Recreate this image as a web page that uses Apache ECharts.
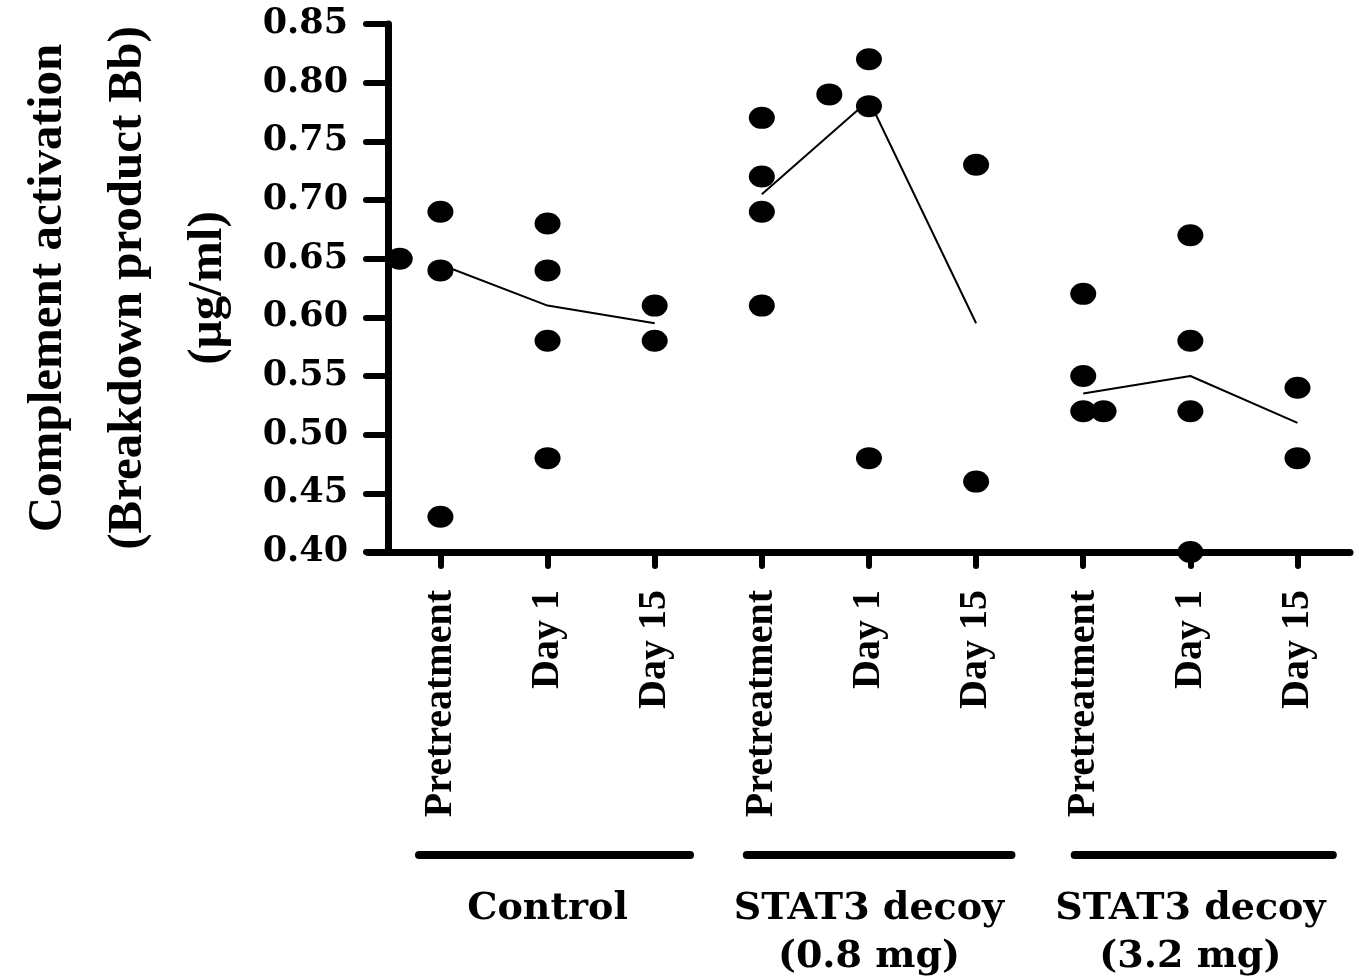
<!DOCTYPE html>
<html>
<head>
<meta charset="utf-8">
<script src="https://cdn.jsdelivr.net/npm/echarts@6/dist/echarts.min.js"></script>
<style>
  html, body { margin: 0; padding: 0; background: #fff; }
  #main { width: 1359px; height: 979px; }
</style>
</head>
<body>
<div id="main"></div>
<script>
// categories along the x axis (positions 1..9)
const categories = ['Pretreatment', 'Day 1', 'Day 15', 'Pretreatment', 'Day 1', 'Day 15', 'Pretreatment', 'Day 1', 'Day 15']
const groupNames = ['Control', 'STAT3 decoy\n(0.8 mg)', 'STAT3 decoy\n(3.2 mg)']
// individual measurements per category (µg/ml)
const pointValues = [
  [0.65, 0.69, 0.64, 0.43],
  [0.68, 0.64, 0.58, 0.48],
  [0.61, 0.58],
  [0.77, 0.72, 0.69, 0.61],
  [0.79, 0.82, 0.78, 0.48],
  [0.73, 0.46],
  [0.62, 0.55, 0.52, 0.52],
  [0.67, 0.58, 0.52, 0.40],
  [0.54, 0.48]
]
// horizontal spread of overlapping dots (in category units)
const pointJitter = [
  [-0.38, 0, 0, 0],
  [0, 0, 0, 0],
  [0, 0],
  [0, 0, 0, 0],
  [-0.37, 0, 0, 0],
  [0, 0],
  [0, 0, 0, 0.19],
  [0, 0, 0, 0],
  [0, 0]
]
// median line per category
const medianValues = [0.645, 0.61, 0.595, 0.705, 0.785, 0.595, 0.535, 0.55, 0.51]
const yMin = 0.40
const yMax = 0.85
const yStep = 0.05

const serif = '"Liberation Serif", "Times New Roman", serif'
const wideSerif = '"DejaVu Serif", serif'
const catPos = categories.map((c, i) => i + 1)

const scatterData = []
pointValues.forEach((vals, i) => {
  vals.forEach((v, j) => scatterData.push([i + 1 + pointJitter[i][j], v]))
})

const lineSeries = groupNames.map((g, gi) => ({
  type: 'line',
  data: [0, 1, 2].map(k => [gi * 3 + k + 1, medianValues[gi * 3 + k]]),
  symbol: 'none',
  lineStyle: { color: '#000', width: 2 },
  z: 2
}))

const chart = echarts.init(document.getElementById('main'))
chart.setOption({
  animation: false,
  grid: { left: 360, right: 9, top: 24, bottom: 427 },
  xAxis: {
    type: 'value',
    min: 0.324,
    max: 9.49,
    splitLine: { show: false },
    axisLine: { onZero: false, lineStyle: { color: '#000', width: 7, cap: 'round' } },
    axisTick: { customValues: catPos, length: 14, lineStyle: { color: '#000', width: 6, cap: 'round' } },
    axisLabel: {
      customValues: catPos,
      formatter: v => categories[Math.round(v) - 1],
      rotate: 90,
      margin: 38,
      color: '#000',
      fontFamily: serif,
      fontWeight: 'bold',
      fontSize: 40
    }
  },
  yAxis: {
    type: 'value',
    min: yMin,
    max: yMax,
    interval: yStep,
    offset: -20,
    name: 'Complement activation\n(Breakdown product Bb)\n(µg/ml)',
    nameLocation: 'middle',
    nameRotate: 90,
    nameGap: 140,
    nameTextStyle: {
      color: '#000',
      fontFamily: serif,
      fontWeight: 'bold',
      fontSize: 49,
      lineHeight: 80
    },
    splitLine: { show: false },
    axisLine: { onZero: false, lineStyle: { color: '#000', width: 7, cap: 'round' } },
    axisTick: { length: 22, lineStyle: { color: '#000', width: 6, cap: 'round' } },
    axisLabel: {
      formatter: v => v.toFixed(2),
      margin: 40,
      color: '#000',
      fontFamily: wideSerif,
      fontWeight: 'bold',
      fontSize: 35
    }
  },
  series: [
    ...lineSeries,
    {
      type: 'scatter',
      data: scatterData,
      symbol: 'circle',
      symbolSize: [26, 22],
      clip: false,
      itemStyle: { color: '#000', opacity: 1 },
      z: 3
    }
  ]
})

// group bars and names under the rotated labels
const toX = v => chart.convertToPixel({ xAxisIndex: 0 }, v)
const graphics = []
groupNames.forEach((name, gi) => {
  const x1 = toX(gi * 3 + 1 - 0.2 + gi * 0.06)
  const x2 = toX(gi * 3 + 3 + 0.33)
  graphics.push({
    type: 'line',
    shape: { x1: x1, y1: 855, x2: x2, y2: 855 },
    style: { stroke: '#000', lineWidth: 8, lineCap: 'round' }
  })
  graphics.push({
    type: 'text',
    style: {
      text: name,
      x: toX(gi * 3 + 2),
      y: 885,
      align: 'center',
      verticalAlign: 'top',
      fill: '#000',
      fontFamily: wideSerif,
      fontWeight: 'bold',
      fontSize: 38,
      lineHeight: 48
    }
  })
})
chart.setOption({ graphic: graphics })
</script>
</body>
</html>
